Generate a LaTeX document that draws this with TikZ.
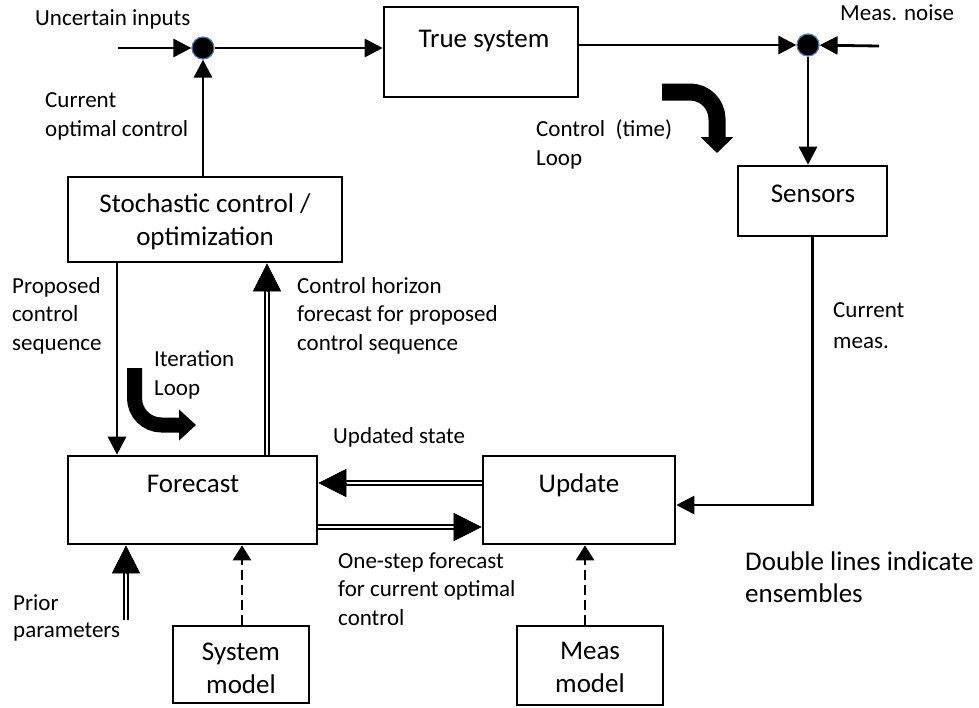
\documentclass[tikz,border=0pt]{standalone}
\usepackage{fontspec}
\setmainfont{Carlito}
\usetikzlibrary{arrows.meta,calc}
\definecolor{jblue}{RGB}{80,120,180}
\begin{document}
\begin{tikzpicture}[x=1pt,y=-1pt,
  box/.style={draw, line width=2.6pt, rectangle, inner sep=0pt},
  lbl/.style={font=\fontsize{23}{28.5}\selectfont, align=left, inner sep=0pt, anchor=base west},
  btxt/.style={font=\fontsize{27}{33}\selectfont, align=center, inner sep=0pt, anchor=base},
  wire/.style={line width=2.8pt},
  sarrow/.style={wire, -{Triangle[length=18pt,width=18pt]}},
  dbl/.style={double, double distance=2.5pt, line width=2.2pt},
  dtip/.style={line width=0.5pt, -{Triangle[length=28pt,width=28pt]}},
  dasharr/.style={wire, dash pattern=on 10pt off 5pt, -{Triangle[length=15pt,width=18pt]}},
  junc/.style={circle, fill=black, draw=jblue, line width=1.2pt, minimum size=22pt, inner sep=0pt},
  bigarrow/.style={line width=17pt, rounded corners=27pt, -{Triangle[length=16pt,width=32pt]}}
]
\useasboundingbox (0,0) rectangle (979,707);

% boxes
\node[box, minimum width=194pt, minimum height=90pt] (truesys) at (481,52) {};
\node[box, minimum width=274pt, minimum height=85pt] (stoch) at (205,219.5) {};
\node[box, minimum width=149pt, minimum height=70pt] (sensors) at (812.5,201) {};
\node[box, minimum width=249pt, minimum height=88pt] (forecast) at (192.5,500) {};
\node[box, minimum width=192pt, minimum height=88pt] (update) at (579,500) {};
\node[box, minimum width=136pt, minimum height=77pt] (sysmodel) at (241,664.5) {};
\node[box, minimum width=146pt, minimum height=79pt] (measmodel) at (590,665.5) {};

% box texts (base = baseline of last line)
\node[btxt] (tTrue) at (484,47) {True system};
\node[btxt] (tStoch) at (205,245) {Stochastic control /\\optimization};
\node[btxt] (tSens) at (813,202) {Sensors};
\node[btxt] (tFore) at (193,492) {Forecast};
\node[btxt] (tUpd) at (579,492) {Update};
\node[btxt] (tSys) at (241,693) {System\\model};
\node[btxt] (tMeas) at (590,692) {Meas\\model};

% junctions
\node[junc] (j1) at (203,48) {};
\node[junc] (j2) at (808,45) {};

% top loop
\coordinate (uin) at (118,48);
\coordinate (mn) at (879,46);
\draw[sarrow] (uin) -- (j1);
\draw[sarrow] (j1) -- (j1 -| truesys.west);
\draw[sarrow] (truesys.east |- j2) -- (j2);
\draw[sarrow] (mn) -- (j2);
\draw[sarrow] (j2) -- (j2 |- sensors.north);
\draw[sarrow] (stoch.north -| j1) -- (j1);

% proposed control sequence
\coordinate (pc) at (117,0);
\draw[sarrow] (stoch.south -| pc) -- (forecast.north -| pc);

% control horizon (double)
\coordinate (ch) at (267,0);
\draw[dbl] (forecast.north -| ch) -- ($(stoch.south -| ch)+(0,27)$);
\draw[dtip] ($(stoch.south -| ch)+(0,28)$) -- (stoch.south -| ch);

% updated state (double)
\coordinate (us) at (0,483);
\draw[dbl] (update.west |- us) -- ($(forecast.east |- us)+(27,0)$);
\draw[dtip] ($(forecast.east |- us)+(28,0)$) -- (forecast.east |- us);

% one-step forecast (double)
\coordinate (os) at (0,527);
\draw[dbl] (forecast.east |- os) -- ($(update.west |- os)+(-27,0)$);
\draw[dtip] ($(update.west |- os)+(-28,0)$) -- (update.west |- os);

% prior parameters (double)
\coordinate (pp) at (126,620);
\draw[dbl] (pp) -- ($(forecast.south -| pp)+(0,27)$);
\draw[dtip] ($(forecast.south -| pp)+(0,28)$) -- (forecast.south -| pp);

% models (dashed)
\coordinate (sm) at (242,0);
\draw[dasharr] (sysmodel.north -| sm) -- (forecast.south -| sm);
\coordinate (mm) at (585,0);
\draw[dasharr] (measmodel.north -| mm) -- (update.south -| mm);

% current meas
\coordinate (cm) at (0,505);
\draw[sarrow] (sensors.south) |- (update.east |- cm);

% big loop arrows
\coordinate (ta) at (662,92);
\coordinate (tb) at (717,92);
\coordinate (tc) at (717,153);
\draw[bigarrow] (ta) -- (tb) -- (tc);
\coordinate (ia) at (134.5,368);
\coordinate (ib) at (134.5,425);
\coordinate (ic) at (196,425);
\draw[bigarrow, line width=15pt, -{Triangle[length=17pt,width=30pt]}] (ia) -- (ib) -- (ic);

% labels (base = baseline of last line)
\node[lbl] (lUnc) at (35,25) {Uncertain inputs};
\node[lbl] (lNoise) at (840,20) {Meas. noise};
\node[lbl] (lCur) at (45,136) {Current\\optimal control};
\node[lbl] (lTime) at (536,165) {Control\ \ (time)\\Loop};
\node[lbl] (lProp) at (12,350) {Proposed\\control\\sequence};
\node[lbl] (lHor) at (297,350) {Control horizon\\forecast for proposed\\control sequence};
\node[lbl] (lIter) at (154,395) {Iteration\\Loop};
\node[lbl, font=\fontsize{23}{31}\selectfont] (lMeas) at (833,348) {Current\\meas.};
\node[lbl] (lUpd) at (333,443) {Updated state};
\node[lbl] (lOne) at (338,625) {One-step forecast\\for current optimal\\control};
\node[lbl, font=\fontsize{23}{27}\selectfont] (lPrior) at (13,637) {Prior\\parameters};
\node[lbl, font=\fontsize{27}{32}\selectfont] (lDbl) at (745,602) {Double lines indicate\\ensembles};
\end{tikzpicture}
\end{document}
